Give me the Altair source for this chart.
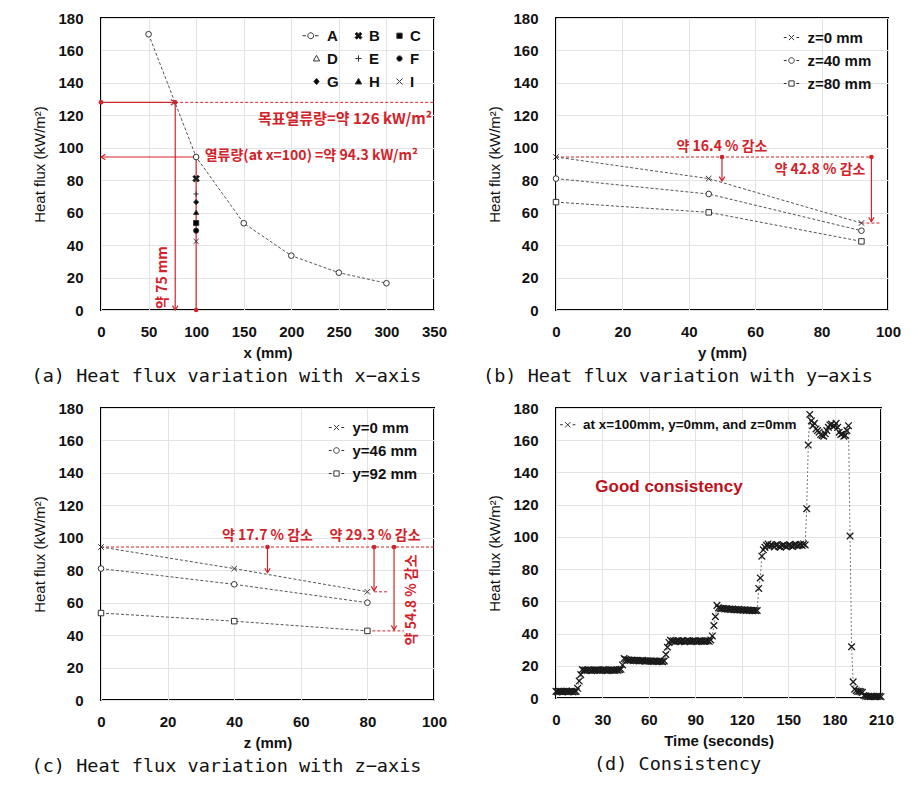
import altair as alt
import pandas as pd

# ---------------- data ----------------
y_ticks = [0, 20, 40, 60, 80, 100, 120, 140, 160, 180]

# (a) Heat flux variation with x-axis
a_ticks = [0, 50, 100, 150, 200, 250, 300, 350]
a_x = [50, 100, 150, 200, 250, 300]
a_flux = [170.0, 94.3, 53.5, 33.5, 23.0, 16.5]
a_probe_names = ["B", "C", "D", "E", "F", "G", "H", "I"]
a_probe_x = [100, 100, 100, 100, 100, 100, 100, 100]
a_probe_flux = [81.0, 53.6, 81.0, 71.5, 48.9, 66.5, 60.2, 42.3]
a_legend = ["A", "B", "C", "D", "E", "F", "G", "H", "I"]

# (b) Heat flux variation with y-axis
b_ticks = [0, 20, 40, 60, 80, 100]
b_pos = [0, 46, 92]
b_names = ["z=0 mm", "z=40 mm", "z=80 mm"]
b_z0 = [94.3, 81.0, 53.6]
b_z40 = [81.0, 71.5, 48.9]
b_z80 = [66.5, 60.2, 42.3]

# (c) Heat flux variation with z-axis
c_ticks = [0, 20, 40, 60, 80, 100]
c_pos = [0, 40, 80]
c_names = ["y=0 mm", "y=46 mm", "y=92 mm"]
c_y0 = [94.3, 81.0, 66.7]
c_y46 = [81.0, 71.3, 60.0]
c_y92 = [53.6, 48.6, 42.6]

# (d) Consistency (one sample per second)
d_ticks = [0, 30, 60, 90, 120, 150, 180, 210]
d_names = ["at x=100mm, y=0mm, and z=0mm"]
d_flux = [
    4.1, 3.9, 4.2, 4.0, 3.8, 4.1, 4.0, 4.3, 3.9, 4.0, 4.2, 3.8, 4.0, 4.1,
    6.0, 10.5, 14.5,
    17.6, 17.2, 17.4, 17.1, 17.5, 17.3, 17.0, 17.4, 17.2, 17.5, 17.3, 17.1, 17.4,
    17.2, 17.6, 17.3, 17.0, 17.4, 17.2, 17.5, 17.3, 17.1, 17.4, 17.2, 17.6, 17.8,
    20.5, 24.5,
    24.0, 23.6, 23.5, 23.3, 23.6, 23.2, 23.4, 23.1, 23.3, 23.0, 23.2, 23.4, 23.0,
    22.9, 23.1, 22.8, 23.0, 22.9, 22.7, 23.0, 22.8, 22.6, 22.9, 22.7, 22.5, 23.0,
    27.0, 31.5, 34.5,
    35.8, 35.2, 35.5, 35.0, 35.4, 35.6, 35.1, 35.3, 35.5, 35.0, 35.2, 35.6, 35.3,
    35.1, 35.4, 35.2, 35.5, 35.0, 35.3, 35.6, 35.2, 35.4, 35.1, 35.3, 35.5, 35.2, 36.0,
    38.5, 45.0, 50.5, 57.5,
    56.0, 55.6, 55.4, 55.7, 55.2, 55.5, 55.1, 55.3, 54.9, 55.2, 54.8, 55.0, 54.7,
    55.0, 54.6, 54.8, 54.5, 54.7, 54.4, 54.6, 54.3, 54.5, 54.2, 54.4, 54.1, 54.3,
    68.0, 74.5, 88.0, 92.0,
    93.5, 94.8, 95.6, 94.2, 95.1, 94.6, 93.8, 94.9, 95.3, 94.1, 93.6, 94.7, 95.0,
    94.3, 93.9, 94.6, 95.2, 94.4, 94.0, 94.8, 95.4, 94.5, 94.9, 95.3, 94.7, 95.6, 95.0,
    117.5, 157.0, 176.0, 172.0, 169.0, 170.5, 167.0, 166.0, 165.0, 163.5, 163.0, 162.5,
    164.0, 166.0, 168.0, 169.5, 170.0, 168.5, 169.0, 170.5, 168.0, 165.0, 163.5, 164.0,
    162.5, 163.0, 166.0, 169.0,
    100.5, 31.8, 10.0, 5.5, 4.5, 4.0, 4.2, 3.8, 3.5,
    1.5, 1.2, 0.9, 1.0, 0.8, 1.1, 0.9, 0.8, 1.0, 0.9, 1.1, 0.8,
]
d_time = list(range(len(d_flux)))

# ---------------- annotations (data coordinates) ----------------
a_target_level = 128.0
a_target_x = 78.0
a_ref_level = 94.3
a_ref_x = 100.0
a_labels = ["목표열류량=약 126 kW/m²", "열류량(at x=100) =약 94.3 kW/m²"]
a_label_x = [348.0, 109.0]
a_label_y = [118.0, 95.0]
a_vlabel = ["약 75 mm"]
a_vlabel_x = [65.0]
a_vlabel_y = [20.0]

b_ref_level = 94.3
b_ref_end = 95.0
b_arrow_x = [50.0, 95.0]
b_arrow_tip = [79.5, 54.5]
b_short_x = [92.0, 98.0]
b_short_level = 53.6
b_labels = ["약 16.4 % 감소", "약 42.8 % 감소"]
b_label_x = [50.0, 79.5]
b_label_y = [100.5, 86.0]

c_ref_level = 94.3
c_arrow_x = [50.0, 82.0, 88.0]
c_arrow_tip = [78.5, 67.3, 43.2]
c_short_x = [[82.0, 86.0], [80.0, 91.0]]
c_short_level = [66.7, 42.6]
c_labels = ["약 17.7 % 감소", "약 29.3 % 감소"]
c_label_x = [50.0, 82.3]
c_label_y = [101.2, 101.2]
c_vlabel = ["약 54.8 % 감소"]
c_vlabel_x = [93.3]
c_vlabel_y = [61.7]

d_note = ["Good consistency"]
d_note_x = [73.0]
d_note_y = [131.0]

# ---------------- styles ----------------
RED = "#d2232a"
DARK = "#333333"
LINEC = "#555555"
NARROW = "Liberation Sans Narrow, Arial Narrow, Liberation Sans, Arial, sans-serif"
KR = "Noto Sans CJK KR, Noto Sans, sans-serif"
CAPF = "DejaVu Sans Mono, monospace"

SH_X = "M-1,-1L1,1M-1,1L1,-1"
SH_PLUS = "M-1,0H1M0,-1V1"
SH_BOLDX = "M-1.3,-0.7L-0.7,-1.3L1.3,0.7L0.7,1.3Z M1.3,-0.7L-0.7,1.3L-1.3,0.7L0.7,-1.3Z"
SH_DOWN = "M-1,-1.6L0,0L1,-1.6"
SH_LEFT = "M1.6,-1L0,0L1.6,1"
SH_RIGHT = "M-1.6,-1L0,0L-1.6,1"

LG_A_SHAPE = {
    "A": "M-4.0,0H-3.0M-0.4,0H0.6M-2.5,0A0.85,0.85 0 1,1 -0.8,0A0.85,0.85 0 1,1 -2.5,0",
    "B": "M-1.0,-0.5L-0.5,-1.0L1.0,0.5L0.5,1.0Z M1.0,-0.5L-0.5,1.0L-1.0,0.5L0.5,-1.0Z",
    "C": "M-0.75,-0.75H0.75V0.75H-0.75Z",
    "D": "M0,-0.9L0.9,0.7H-0.9Z",
    "E": "M-0.9,0H0.9M0,-0.9V0.9",
    "F": "M-0.75,0A0.75,0.75 0 1,1 0.75,0A0.75,0.75 0 1,1 -0.75,0",
    "G": "M0,-0.9L0.75,0L0,0.9L-0.75,0Z",
    "H": "M0,-0.9L0.9,0.7H-0.9Z",
    "I": "M-0.85,-0.85L0.85,0.85M-0.85,0.85L0.85,-0.85",
}
LG_A_FILL = {"A": "white", "B": "black", "C": "black", "D": "white", "E": "black",
             "F": "black", "G": "black", "H": "black", "I": "black"}
# legend grid is filled column by column: order so that rows read A B C / D E F / G H I
a_legend_order = [a_legend[i] for i in (0, 3, 6, 1, 4, 7, 2, 5, 8)]

DASH = "M-2.2,0H-1.4M1.4,0H2.2"
LG_X = DASH + "M-0.75,-0.75L0.75,0.75M-0.75,0.75L0.75,-0.75"
LG_O = DASH + "M-0.8,0A0.8,0.8 0 1,1 0.8,0A0.8,0.8 0 1,1 -0.8,0"
LG_S = DASH + "M-0.75,-0.75H0.75V0.75H-0.75Z"


def enc(xdom, xticks, xtitle):
    X = alt.X("x:Q", scale=alt.Scale(domain=xdom, nice=False, zero=False),
              axis=alt.Axis(values=xticks, title=xtitle, format="d"))
    Y = alt.Y("y:Q", scale=alt.Scale(domain=[0, 180], nice=False),
              axis=alt.Axis(values=y_ticks, title="Heat flux (kW/m²)", format="d"))
    return X, Y


def line(xs, ys, X, Y, color=LINEC, dash=(3, 2)):
    df = pd.DataFrame({"x": xs, "y": ys})
    return alt.Chart(df).mark_line(color=color, strokeDash=list(dash), strokeWidth=1).encode(x=X, y=Y)


def pts(xs, ys, X, Y, shape, size, filled, fill="white", color=DARK, sw=1.0):
    df = pd.DataFrame({"x": xs, "y": ys})
    if filled:
        m = alt.Chart(df).mark_point(shape=shape, size=size, filled=True, fill=fill,
                                     stroke=color, strokeWidth=sw, opacity=1)
    else:
        m = alt.Chart(df).mark_point(shape=shape, size=size, filled=False,
                                     color=color, strokeWidth=sw, opacity=1)
    return m.encode(x=X, y=Y)


def rule(x1, y1, x2, y2, X, Y, dash=None, sw=1.2):
    df = pd.DataFrame({"x": x1, "y": y1, "x2": x2, "y2": y2})
    if dash:
        m = alt.Chart(df).mark_rule(color=RED, strokeWidth=sw, strokeDash=list(dash))
    else:
        m = alt.Chart(df).mark_rule(color=RED, strokeWidth=sw)
    return m.encode(x=X, y=Y, x2="x2:Q", y2="y2:Q")


def dots(xs, ys, X, Y):
    df = pd.DataFrame({"x": xs, "y": ys})
    return alt.Chart(df).mark_circle(color=RED, size=22, opacity=1).encode(x=X, y=Y)


def heads(xs, ys, shape, X, Y):
    df = pd.DataFrame({"x": xs, "y": ys})
    return alt.Chart(df).mark_point(shape=shape, size=30, filled=False, color=RED,
                                    strokeWidth=1.2, opacity=1).encode(x=X, y=Y)


def texts(labels, xs, ys, X, Y, size=14, align="center", angle=0, font=KR, color=RED):
    df = pd.DataFrame({"x": xs, "y": ys, "t": labels})
    return alt.Chart(df).mark_text(font=font, fontSize=size, fontWeight="bold", color=color,
                                   align=align, baseline="middle", angle=angle).encode(
        x=X, y=Y, text="t:N")


def legend_layer(names, shapes, fills, legend):
    # no marks are drawn (data filtered out); the explicit scale domains feed the legend
    df = pd.DataFrame({"lab": names})
    return alt.Chart(df).transform_filter("false").mark_point(
        strokeWidth=1, size=49).encode(
        shape=alt.Shape("lab:N", scale=alt.Scale(domain=names, range=shapes), legend=legend),
        fill=alt.Fill("lab:N", scale=alt.Scale(domain=names, range=fills), legend=legend),
        stroke=alt.Stroke("lab:N", scale=alt.Scale(domain=names, range=[DARK] * len(names)),
                          legend=legend),
    )


def leg(x, y, labeloffset, columns=1, colpad=10, rowpad=7, fsize=15):
    return alt.Legend(title=None, orient="none", legendX=x, legendY=y, columns=columns,
                      symbolSize=49, labelFont=NARROW, labelFontSize=fsize, labelFontWeight="bold",
                      labelColor="#111111", labelOffset=labeloffset, rowPadding=rowpad,
                      columnPadding=colpad, symbolStrokeWidth=1, symbolOpacity=1,
                      labelLimit=320, padding=0)


def caption(text, dx):
    return alt.TitleParams(text, orient="bottom", anchor="middle", frame="group", dx=dx,
                           offset=7, font=CAPF, fontSize=18.5, fontWeight="normal",
                           color="#111111")


# ---------------- panel (a) ----------------
Xa, Ya = enc([0, 350], a_ticks, "x (mm)")
shapes_a = [SH_BOLDX, "square", "triangle-up", SH_PLUS, "circle", "diamond", "triangle-up", SH_X]
filled_a = [True, True, False, False, True, True, True, False]
layers_a = [
    rule([a_ref_x], [a_ref_level], [a_ref_x], [0.0], Xa, Ya),
    rule([a_target_x], [a_target_level], [a_target_x], [0.0], Xa, Ya),
    rule([0.0], [a_target_level], [a_target_x], [a_target_level], Xa, Ya),
    rule([a_ref_x], [a_ref_level], [0.0], [a_ref_level], Xa, Ya),
    rule([a_target_x], [a_target_level], [350.0], [a_target_level], Xa, Ya, dash=(3, 2), sw=1),
    heads([a_target_x], [0.0], SH_DOWN, Xa, Ya),
    heads([a_target_x], [a_target_level], SH_RIGHT, Xa, Ya),
    heads([0.0], [a_ref_level], SH_LEFT, Xa, Ya),
    dots([0.0, a_target_x, a_ref_x], [a_target_level, a_target_level, 0.0], Xa, Ya),
    line(a_x, a_flux, Xa, Ya),
    pts(a_x, a_flux, Xa, Ya, "circle", 32, True, fill="white"),
]
for i in range(len(a_probe_names)):
    if filled_a[i]:
        layers_a.append(pts([a_probe_x[i]], [a_probe_flux[i]], Xa, Ya, shapes_a[i], 26, True,
                            fill="black"))
    else:
        layers_a.append(pts([a_probe_x[i]], [a_probe_flux[i]], Xa, Ya, shapes_a[i], 26, False))
layers_a += [
    texts(a_labels[:1], a_label_x[:1], a_label_y[:1], Xa, Ya, size=15, align="right"),
    texts(a_labels[1:], a_label_x[1:], a_label_y[1:], Xa, Ya, size=14, align="left"),
    texts(a_vlabel, a_vlabel_x, a_vlabel_y, Xa, Ya, size=14, angle=270),
    legend_layer(a_legend_order, [LG_A_SHAPE[k] for k in a_legend_order],
                 [LG_A_FILL[k] for k in a_legend_order],
                 leg(208, 10, 3, columns=3, colpad=12, rowpad=7)),
]
panel_a = alt.layer(*layers_a).properties(
    width=333, height=292, title=caption("(a) Heat flux variation with x−axis", -41))

# ---------------- panel (b) ----------------
Xb, Yb = enc([0, 100], b_ticks, "y (mm)")
layers_b = [
    rule([0.0], [b_ref_level], [b_ref_end], [b_ref_level], Xb, Yb, dash=(3, 2), sw=1),
    rule([b_short_x[0]], [b_short_level], [b_short_x[1]], [b_short_level], Xb, Yb, dash=(3, 2), sw=1),
    rule(b_arrow_x, [b_ref_level] * 2, b_arrow_x, b_arrow_tip, Xb, Yb),
    heads(b_arrow_x, b_arrow_tip, SH_DOWN, Xb, Yb),
    dots(b_arrow_x, [b_ref_level] * 2, Xb, Yb),
    line(b_pos, b_z0, Xb, Yb), line(b_pos, b_z40, Xb, Yb), line(b_pos, b_z80, Xb, Yb),
    pts(b_pos, b_z0, Xb, Yb, SH_X, 30, False),
    pts(b_pos, b_z40, Xb, Yb, "circle", 32, True, fill="white"),
    pts(b_pos, b_z80, Xb, Yb, "square", 30, True, fill="white"),
    texts(b_labels, b_label_x, b_label_y, Xb, Yb, size=14),
    legend_layer(b_names, [LG_X, LG_O, LG_S], ["white"] * 3, leg(228, 12, 8.5)),
]
panel_b = alt.layer(*layers_b).properties(
    width=332, height=292, title=caption("(b) Heat flux variation with y−axis", -44))

# ---------------- panel (c) ----------------
Xc, Yc = enc([0, 100], c_ticks, "z (mm)")
layers_c = [
    rule([0.0], [c_ref_level], [100.0], [c_ref_level], Xc, Yc, dash=(3, 2), sw=1),
    rule([c_short_x[0][0], c_short_x[1][0]], c_short_level, [c_short_x[0][1], c_short_x[1][1]],
         c_short_level, Xc, Yc, dash=(3, 2), sw=1),
    rule(c_arrow_x, [c_ref_level] * 3, c_arrow_x, c_arrow_tip, Xc, Yc),
    heads(c_arrow_x, c_arrow_tip, SH_DOWN, Xc, Yc),
    dots(c_arrow_x, [c_ref_level] * 3, Xc, Yc),
    line(c_pos, c_y0, Xc, Yc), line(c_pos, c_y46, Xc, Yc), line(c_pos, c_y92, Xc, Yc),
    pts(c_pos, c_y0, Xc, Yc, SH_X, 30, False),
    pts(c_pos, c_y46, Xc, Yc, "circle", 32, True, fill="white"),
    pts(c_pos, c_y92, Xc, Yc, "square", 30, True, fill="white"),
    texts(c_labels, c_label_x, c_label_y, Xc, Yc, size=14),
    texts(c_vlabel, c_vlabel_x, c_vlabel_y, Xc, Yc, size=14, angle=270),
    legend_layer(c_names, [LG_X, LG_O, LG_S], ["white"] * 3, leg(228, 12, 8.5)),
]
panel_c = alt.layer(*layers_c).properties(
    width=333, height=292, title=caption("(c) Heat flux variation with z−axis", -41))

# ---------------- panel (d) ----------------
Xd, Yd = enc([0, 210], d_ticks, "Time (seconds)")
layers_d = [
    line(d_time, d_flux, Xd, Yd, color="#777777", dash=(2, 2)),
    pts(d_time, d_flux, Xd, Yd, SH_X, 44, False, color="#1a1a1a", sw=1.3),
    texts(d_note, d_note_x, d_note_y, Xd, Yd, size=17, font=NARROW, color="#c0101c"),
    legend_layer(d_names, [LG_X], ["white"], leg(5, 10, 8.5, fsize=13.5)),
]
panel_d = alt.layer(*layers_d).properties(
    width=325, height=290, title=caption("(d)  Consistency", -41))

RES = dict(shape="independent", fill="independent", stroke="independent")
chart = alt.concat(panel_a, panel_b, panel_c, panel_d, columns=2,
                   spacing={"row": 98, "column": 122}, bounds="flush"
                   ).resolve_scale(**RES).resolve_legend(**RES)

chart = chart.properties(
    padding={"left": 22, "top": 2, "right": 5, "bottom": 5},
    background="white",
).configure_view(
    stroke="black", strokeWidth=2
).configure_axis(
    grid=True, gridColor="#e3e3e3", gridWidth=1, domain=False, ticks=False, labelFlush=False,
    labelFont=NARROW, labelFontSize=15, labelFontWeight="bold", labelColor="#111111",
    titleFont=NARROW, titleFontSize=15, titleColor="#111111",
).configure_axisX(
    labelPadding=14, titlePadding=6, titleFontWeight="bold",
).configure_axisY(
    labelPadding=18, titlePadding=10, titleFontWeight="normal",
)

chart.save("out.html", embed_options={"renderer": "svg", "actions": False})
